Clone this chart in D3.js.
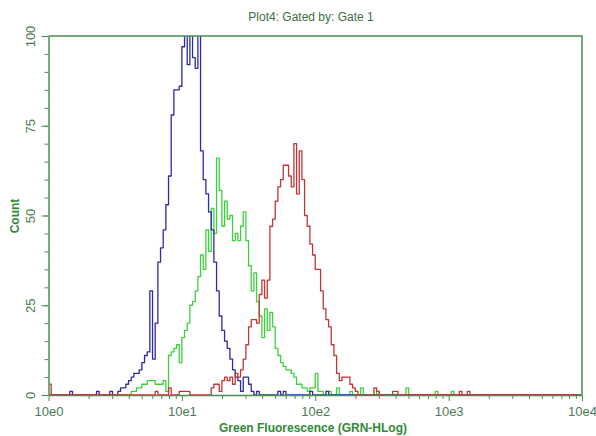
<!DOCTYPE html>
<html>
<head>
<meta charset="utf-8">
<script src="https://cdn.jsdelivr.net/npm/d3@7"></script>
<style>
  body { margin: 0; background: #ffffff; }
  svg { display: block; font-family: "Liberation Sans", Arial, sans-serif; }
</style>
</head>
<body>
<svg id="chart"></svg>
<script>
// histogram: 50 channels per decade over 4 decades
var channelsPerDecade = 50;
var decades = 4;

var decadeTicks = [1, 10, 100, 1000, 10000];
var decadeLabels = ["10e0", "10e1", "10e2", "10e3", "10e4"];
var countTicks = [0, 25, 50, 75, 100];

// blue population (first channel + counts), plus lone events
var blueStart = 26;
var blueCounts = [1, 2, 2, 3, 4, 5, 6, 6, 7, 9, 11, 12, 29, 10, 20, 37, 41, 46, 53, 61,
  78, 85, 85, 86, 97, 104, 92, 101, 94, 91, 103, 68, 60, 56, 51, 46, 37, 29, 22, 18,
  15, 13, 10, 7, 5, 4, 1, 5, 5, 3, 1];
var blueBlips = [[8, 1], [18, 1], [23, 1], [78, 1], [86, 1], [88, 1], [98, 1], [104, 1]];

// green population
var greenStart = 31;
var greenCounts = [1, 1, 2, 2, 3, 3, 4, 4, 4, 3, 3, 3, 4, 1, 11, 12, 13, 14, 9, 16,
  18, 20, 25, 26, 29, 33, 39, 35, 46, 40, 52, 45, 66, 57, 47, 54, 49, 50, 43, 45,
  43, 47, 51, 43, 36, 29, 34, 26, 22, 16, 24, 18, 23, 19, 13, 11, 9, 8, 7, 7,
  6, 5, 3, 3, 2, 2, 1, 2, 2, 6, 1, 1];
var greenBlips = [[105, 1], [108, 2], [113, 1], [117, 2], [123, 1], [134, 2], [145, 1], [151, 1]];

// red population
var redStart = 61;
var redCounts = [2, 3, 3, 1, 4, 5, 4, 5, 3, 6, 5, 7, 10, 14, 19, 21, 21, 20, 28, 32,
  27, 32, 47, 49, 54, 58, 60, 64, 64, 61, 58, 70, 56, 68, 60, 50, 47, 42, 39, 35,
  35, 29, 24, 21, 19, 14, 11, 6, 4, 5, 5, 5, 3, 2, 1];
var redBlips = [[0, 3], [40, 1], [45, 2], [49, 1], [50, 1], [51, 1], [52, 1], [122, 2],
  [123, 1], [129, 1], [130, 1], [154, 1], [157, 1]];

// set the dimensions of the graph
var width = 596, height = 436;
var plotLeft = 48.5, plotRight = 582, plotTop = 36, plotBottom = 395;

var frameColor = "#46914f";
var labelColor = "#4d7a55";

var svg = d3.select("#chart").attr("width", width).attr("height", height);

// set the ranges
var x = d3.scaleLog().domain([1, 10000]).range([plotLeft, plotRight]);
var y = d3.scaleLinear().domain([0, 100]).range([plotBottom, plotTop]);

function buildSeries(start, counts, blips) {
  var arr = new Array(channelsPerDecade * decades).fill(0);
  counts.forEach(function(c, k) { arr[start + k] = c; });
  blips.forEach(function(b) { arr[b[0]] = b[1]; });
  return arr;
}

var series = [
  { color: "#3ad23a", values: buildSeries(greenStart, greenCounts, greenBlips) },
  { color: "#2b2ba3", values: buildSeries(blueStart, blueCounts, blueBlips) },
  { color: "#c23535", values: buildSeries(redStart, redCounts, redBlips) }
];

svg.append("clipPath").attr("id", "plot-clip")
  .append("rect")
  .attr("x", plotLeft).attr("y", plotTop)
  .attr("width", plotRight - plotLeft).attr("height", plotBottom - plotTop);

// define the line
var valueline = d3.line()
  .x(function(d, i) { return x(Math.pow(10, (i + 0.5) / channelsPerDecade)); })
  .y(function(d) { return y(d); })
  .curve(d3.curveStep);

svg.append("g").attr("clip-path", "url(#plot-clip)")
  .selectAll("path")
  .data(series)
  .enter().append("path")
  .attr("d", function(s) { return valueline(s.values); })
  .attr("fill", "none")
  .attr("stroke", function(s) { return s.color; })
  .attr("stroke-width", 1.3)
  .attr("stroke-linejoin", "round");

// frame (top and right)
svg.append("path")
  .attr("d", "M" + plotLeft + "," + plotTop + "H" + plotRight + "V" + plotBottom)
  .attr("fill", "none")
  .attr("stroke", frameColor)
  .attr("stroke-width", 1.5);

// minor log ticks on x
var minorX = [];
for (var k = 0; k < decades; k++) {
  for (var m = 2; m <= 9; m++) minorX.push(m * Math.pow(10, k));
}
svg.append("g")
  .attr("transform", "translate(0," + plotBottom + ")")
  .attr("color", frameColor)
  .call(d3.axisBottom(x).tickValues(minorX).tickSize(4).tickSizeOuter(0).tickFormat(""))
  .call(function(g) { g.select(".domain").remove(); });

// Add the X Axis
var xAxis = svg.append("g")
  .attr("transform", "translate(0," + plotBottom + ")")
  .attr("color", frameColor)
  .call(d3.axisBottom(x).tickValues(decadeTicks).tickSize(6).tickSizeOuter(0).tickPadding(6)
    .tickFormat(function(d, i) { return decadeLabels[i]; }));
xAxis.select(".domain").attr("stroke-width", 1.5);
xAxis.selectAll("text")
  .attr("fill", labelColor)
  .style("font-size", "13px");

// minor ticks on y, every 5 counts
svg.append("g")
  .attr("transform", "translate(" + plotLeft + ",0)")
  .attr("color", frameColor)
  .call(d3.axisLeft(y).tickValues(d3.range(5, 100, 5)).tickSize(4).tickSizeOuter(0).tickFormat(""))
  .call(function(g) { g.select(".domain").remove(); });

// Add the Y Axis
var yAxis = svg.append("g")
  .attr("transform", "translate(" + plotLeft + ",0)")
  .attr("color", frameColor)
  .call(d3.axisLeft(y).tickValues(countTicks).tickSize(7).tickSizeOuter(0));
yAxis.select(".domain").attr("stroke-width", 1.5);
yAxis.selectAll("text")
  .attr("fill", labelColor)
  .style("font-size", "13px")
  .attr("text-anchor", "middle")
  .attr("transform", "rotate(-90)")
  .attr("x", 0)
  .attr("y", -13.5)
  .attr("dy", 0);

// titles
svg.append("text")
  .attr("x", 311).attr("y", 21)
  .attr("text-anchor", "middle")
  .attr("fill", "#3f6e45")
  .style("font-size", "12px")
  .text("Plot4:  Gated by: Gate 1");

svg.append("text")
  .attr("x", 313).attr("y", 432)
  .attr("text-anchor", "middle")
  .attr("fill", "#2f8a36")
  .style("font-size", "12px")
  .style("font-weight", "bold")
  .text("Green Fluorescence (GRN-HLog)");

svg.append("text")
  .attr("transform", "translate(19,216) rotate(-90)")
  .attr("text-anchor", "middle")
  .attr("fill", "#2f8a36")
  .style("font-size", "12px")
  .style("font-weight", "bold")
  .text("Count");
</script>
</body>
</html>
